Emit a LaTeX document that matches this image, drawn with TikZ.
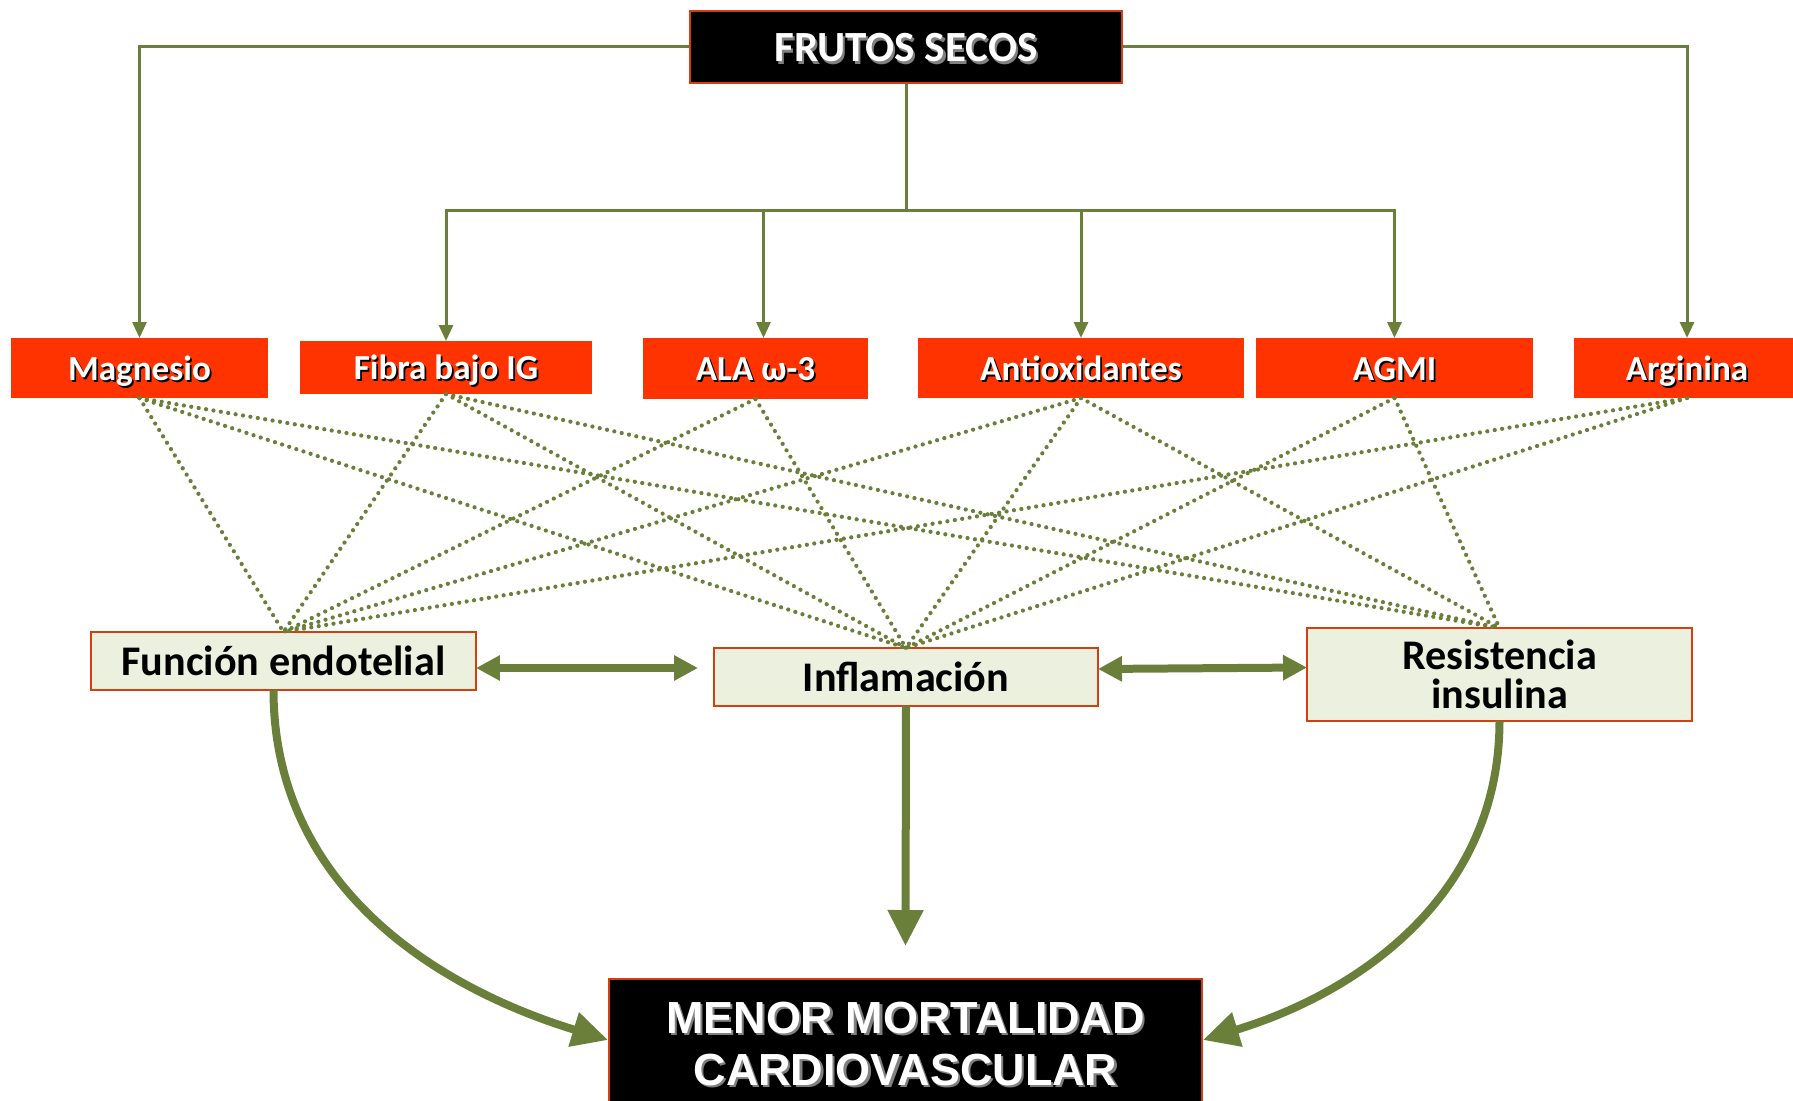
\documentclass[tikz,border=0pt]{standalone}
\usepackage{fontspec}
\setmainfont{Carlito}
\newfontfamily\arialfont{Liberation Sans}
\usetikzlibrary{arrows.meta,calc}

\definecolor{olivo}{RGB}{106,128,58}
\definecolor{rojo}{RGB}{255,51,0}
\definecolor{borde}{RGB}{214,62,16}
\definecolor{verdeclaro}{RGB}{235,241,222}

% texto con sombra
\newcommand{\sombra}[2]{\makebox[0pt][l]{\hspace{0.05em}\raisebox{-0.05em}{\textcolor{#1}{#2}}}#2}

\tikzset{
  nutriente/.style={fill=rojo, text=white, inner sep=0pt, outer sep=0pt, minimum height=1.2cm,
    text height=0.5cm, text depth=0cm, font=\fontsize{20}{22}\selectfont\bfseries},
  efecto/.style={draw=borde, fill=verdeclaro, line width=0.04cm, inner sep=0pt, outer sep=0pt,
    minimum width=7.7cm, minimum height=1.16cm, align=center,
    font=\fontsize{24}{22}\selectfont\bfseries},
  link/.style={olivo, line width=0.06cm, -{Triangle[length=0.32cm,width=0.28cm]}},
  puntos/.style={olivo, line width=0.085cm, line cap=round, dash pattern=on 0pt off 0.15cm},
  doble/.style={olivo, line width=0.16cm,
    {Triangle[length=0.48cm,width=0.48cm]}-{Triangle[length=0.48cm,width=0.48cm]}},
  gruesa/.style={olivo, line width=0.16cm, -{Triangle[length=0.72cm,width=0.68cm]}}
}

\begin{document}
\begin{tikzpicture}[x=0.02cm, y=-0.02cm]
  \clip (0,0) rectangle (1793,1101);

  \node[draw=borde, fill=black, text=white, line width=0.04cm, minimum width=8.64cm, minimum height=1.44cm,
    text height=0.6cm, text depth=0cm, font=\fontsize{24.5}{28}\selectfont\bfseries] (frutos) at (906,47)
    {\sombra{gray}{FRUTOS SECOS}};

  \node[nutriente, minimum width=5.14cm] (magnesio) at (139.5,368) {\sombra{black}{Magnesio}};
  \node[nutriente, minimum width=5.84cm, minimum height=1.06cm] (fibra) at (446,367.5) {\sombra{black}{Fibra bajo IG}};
  \node[nutriente, minimum width=4.5cm, minimum height=1.22cm] (ala) at (755.5,368.5) {\sombra{black}{ALA ω-3}};
  \node[nutriente, minimum width=6.52cm] (antiox) at (1081,368) {\sombra{black}{Antioxidantes}};
  \node[nutriente, minimum width=5.54cm] (agmi) at (1394.5,368) {\sombra{black}{AGMI}};
  \node[nutriente, minimum width=4.52cm] (arginina) at (1687,368) {\sombra{black}{Arginina}};

  \node[efecto] (fe) at (283.5,661) {Función endotelial};
  \node[efecto, minimum width=7.68cm] (infl) at (906,677) {Inflamación};
  \node[efecto, minimum height=1.86cm] (resist) at (1499.5,674.5) {Resistencia\\insulina};

  \node[draw=borde, fill=black, text=white, line width=0.04cm, minimum width=11.86cm, minimum height=2.64cm,
    align=center, font=\arialfont\fontsize{25.6}{29.6}\selectfont\bfseries] (menor) at (905.5,1045)
    {\sombra{gray}{MENOR MORTALIDAD}\\\sombra{gray}{CARDIOVASCULAR}};

  \coordinate (bus) at (906,211);
  \draw[link] (frutos.west) -| (magnesio.north);
  \draw[link] (frutos.east) -| (arginina.north);
  \draw[olivo, line width=0.06cm] (frutos.south) -- (bus);
  \foreach \t in {fibra,antiox,agmi}
    \draw[link] (bus) -| (\t.north);
  \draw[link] (bus) -| ($(ala.north)+(8,0)$);

  \foreach \from/\to in {magnesio/fe,magnesio/infl,magnesio/resist,fibra/fe,fibra/infl,fibra/resist,
      ala/fe,ala/infl,antiox/fe,antiox/infl,antiox/resist,agmi/infl,agmi/resist,arginina/fe,arginina/infl}
    \draw[puntos] (\from.south) -- (\to.north);

  \draw[doble] ($(fe.east)+(0,7)$) -- ($(infl.west)+(-16,-9)$);
  \draw[doble] ($(infl.east)+(0,-8)$) -- ($(resist.west)+(0,-7)$);

  \draw[gruesa] (infl.south) -- ($(menor.north)+(0,-32)$);
  \draw[gruesa] ($(fe.south)+(-10,0)$) to[out=-90, in=163] ($(menor.west)+(0,-5)$);
  \draw[gruesa] (resist.south) to[out=-90, in=17] ($(menor.east)+(0,-5)$);
\end{tikzpicture}
\end{document}
